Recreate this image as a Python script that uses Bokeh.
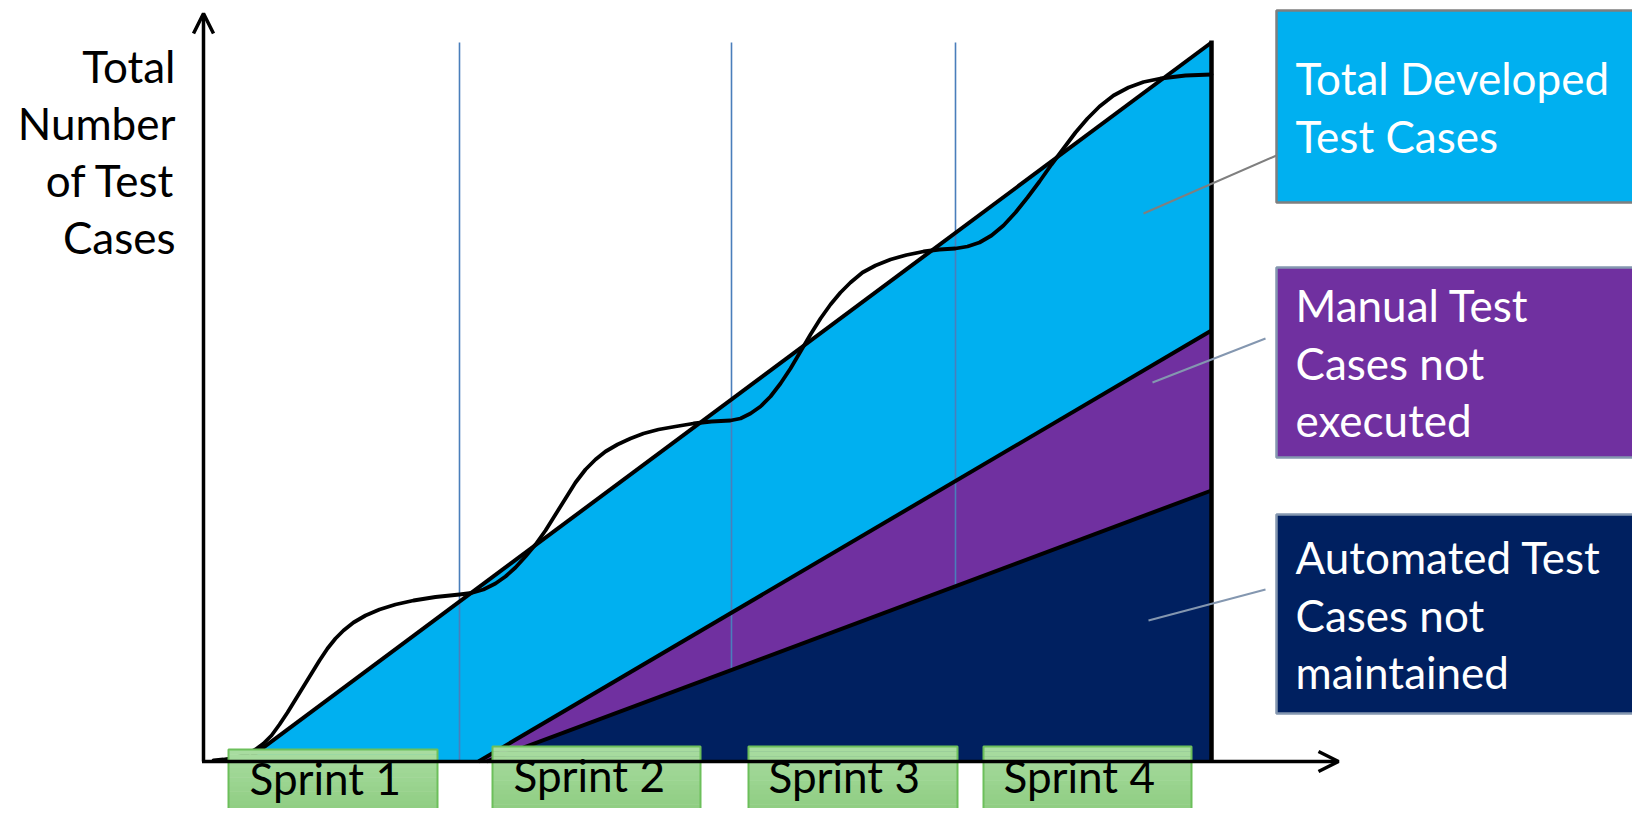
from bokeh.plotting import figure
from bokeh.models import Range1d, Arrow, OpenHead
from bokeh.core.properties import value
from bokeh.embed import file_html
from bokeh.resources import INLINE

# ---------------- data (time on x, number of test cases on y) ----------------
total_x = [41, 1008]
total_y = [0, 719]
manual_x = [275, 1008]
manual_y = [0, 431]
auto_x = [283, 1008]
auto_y = [0, 271]
sprint_bounds = [256, 528, 752]
sprint_end = 1008

curve_x = [10, 20, 32, 42, 52, 60, 68, 76, 84, 92, 100, 108, 116, 124, 132, 140, 150, 162, 176, 192, 210, 232,
           256, 268, 280, 292, 302, 312, 322, 332, 342, 352, 362, 372, 382, 392, 402, 414, 427, 440, 455, 472, 490, 508,
           527, 537, 547, 557, 567, 577, 587, 597, 607, 617, 627, 637, 647, 659, 672, 687, 703, 720, 736,
           752, 764, 776, 788, 800, 812, 824, 836, 848, 860, 872, 884, 896, 910, 925, 940, 957, 982, 1008]
curve_y = [1, 2, 4, 7, 12, 18, 26, 37, 49, 62, 75, 88, 101, 113, 123, 131, 139, 146, 152, 157, 161, 164.5,
           167, 168.5, 172, 178, 185, 194, 205, 217, 231, 247, 263, 279, 292, 302, 310, 317, 323, 328, 332, 335, 338, 340,
           341, 343, 348, 355, 365, 378, 393, 410, 427, 443, 457, 469, 479, 489, 496, 502, 506.5, 510, 512,
           513, 515, 519, 526, 536, 549, 564, 580, 597, 613, 629, 643, 655, 666, 674, 679.5, 683, 686, 687]

sprint_labels = ["Sprint 1", "Sprint 2", "Sprint 3", "Sprint 4"]
ylabel_lines = ["Total", "Number", "of Test", "Cases"]
box_texts = [["Total Developed", "Test Cases"],
             ["Manual Test", "Cases not", "executed"],
             ["Automated Test", "Cases not", "maintained"]]

# ---------------- layout / styles ----------------
FONT = value("Lato")
FS = value("44px")
BLUE, PURPLE, NAVY = "#00B0F0", "#7030A0", "#002060"
TY = 16  # text baseline correction

p = figure(width=1632, height=808, x_range=Range1d(-203, 1429), y_range=Range1d(-47, 761),
           output_backend="svg", toolbar_location=None, min_border=0,
           x_axis_location=None, y_axis_location=None)
p.grid.visible = False
p.outline_line_color = None
p.background_fill_color = "white"
p.border_fill_color = "white"

# areas
p.patch([total_x[0], total_x[1], total_x[1]], [total_y[0], total_y[1], 0], fill_color=BLUE, line_color=None)
p.patch([manual_x[0], manual_x[1], manual_x[1]], [manual_y[0], manual_y[1], 0], fill_color=PURPLE, line_color=None)
# sprint boundaries
p.segment(x0=sprint_bounds, y0=[0] * 3, x1=sprint_bounds, y1=[total_y[1]] * 3,
          line_color="#4A7EBB", line_width=1.6)
p.patch([auto_x[0], auto_x[1], auto_x[1]], [auto_y[0], auto_y[1], 0], fill_color=NAVY, line_color=None)

# black outlines
p.line(total_x, total_y, line_color="black", line_width=4)
p.line(manual_x, manual_y, line_color="black", line_width=4)
p.line(auto_x, auto_y, line_color="black", line_width=4)
p.line([sprint_end, sprint_end], [0, total_y[1] + 2], line_color="black", line_width=4.5)
p.line(curve_x, curve_y, line_color="black", line_width=3.8, line_join="round", line_cap="round")

# axes with arrows
p.add_layout(Arrow(x_start=0, y_start=0, x_end=0, y_end=748, line_width=3.5, line_color="black",
                   end=OpenHead(size=20, line_width=3.5, line_color="black")))
p.add_layout(Arrow(x_start=-1.5, y_start=0, x_end=1135, y_end=0, line_width=3.5, line_color="black",
                   end=OpenHead(size=20, line_width=3.5, line_color="black")))

# sprint boxes with gradient
sb_left = [25, 289, 545, 780]
sb_right = [234, 497, 754, 988]
sb_top = [12, 15, 15, 15]
sb_bottom = -62
n = 16
c_top = (168, 220, 160)
c_bot = (138, 202, 124)
for l, r, t in zip(sb_left, sb_right, sb_top):
    h = (t - sb_bottom) / n
    tops, bots, cols = [], [], []
    for i in range(n):
        f = i / (n - 1)
        c = tuple(int(round(c_top[k] + (c_bot[k] - c_top[k]) * f)) for k in range(3))
        tops.append(t - i * h)
        bots.append(t - (i + 1) * h - 0.5)
        cols.append("#%02x%02x%02x" % c)
    p.quad(left=[l] * n, right=[r] * n, top=tops, bottom=bots, fill_color=cols, line_color=None)
p.quad(left=sb_left, right=sb_right, top=sb_top, bottom=[sb_bottom] * 4,
       fill_alpha=0, line_color="#6CBF5B", line_width=2)
SY = TY + 9  # keep sprint labels inside the canvas
p.text(x=[46, 310, 565, 800], y=[-41 + SY, -38 + SY, -39 + SY, -39 + SY], text=sprint_labels,
       text_font=FONT, text_font_size=FS, text_color="black",
       text_align="left", text_baseline="alphabetic")

# y label
p.text(x=[-28] * 4, y=[680 + TY, 623 + TY, 566 + TY, 509 + TY], text=ylabel_lines, text_font=FONT,
       text_font_size=FS, text_color="black", text_align="right", text_baseline="alphabetic")

# leader lines
p.segment(x0=[940], y0=[548], x1=[1073], y1=[606], line_color="#7F7F7F", line_width=2)
p.segment(x0=[949, 945], y0=[379, 141], x1=[1062, 1062], y1=[423, 172], line_color="#8497B0", line_width=2)

# info boxes
bx_l, bx_r = 1073, 1440
bx_top = [751, 494, 247]
bx_bot = [559, 304, 48]
bx_fill = [BLUE, PURPLE, NAVY]
bx_line = ["#7F7F7F", "#8497B0", "#8497B0"]
p.quad(left=[bx_l] * 3, right=[bx_r] * 3, top=bx_top, bottom=bx_bot, fill_color=bx_fill,
       line_color=bx_line, line_width=2.5)
baselines = [[668, 610], [441, 383, 326], [189, 131, 74]]
tx, ty, tt = [], [], []
for lines, bl in zip(box_texts, baselines):
    for s, yb in zip(lines, bl):
        tx.append(1092); ty.append(yb + TY); tt.append(s)
p.text(x=tx, y=ty, text=tt, text_font=FONT, text_font_size=FS, text_color="white",
       text_align="left", text_baseline="alphabetic")

open("out.html", "w").write(file_html(p, INLINE))
